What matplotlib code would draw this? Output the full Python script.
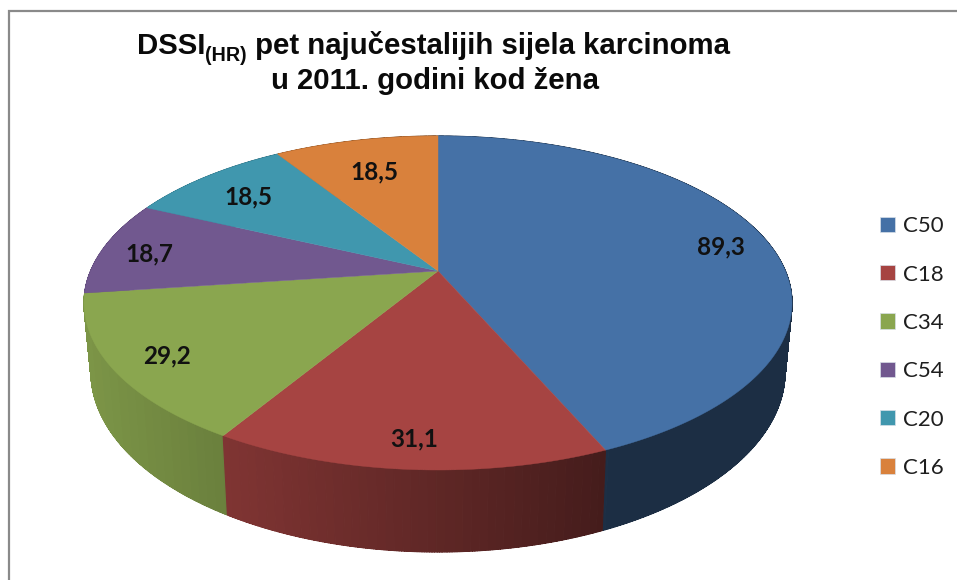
import numpy as np
import matplotlib
matplotlib.use("Agg")
import matplotlib.pyplot as plt
from matplotlib.patches import Patch, PathPatch, Polygon
from matplotlib.path import Path

categories = ["C50", "C18", "C34", "C54", "C20", "C16"]
values = [89.3, 31.1, 29.2, 18.7, 18.5, 18.5]
value_labels = ["89,3", "31,1", "29,2", "18,7", "18,5", "18,5"]
colors = ["#4571A6", "#A64442", "#8AA64F", "#71588F", "#4097AE", "#D9813C"]
label_radius = [0.86, 0.86, 0.85, 0.86, 0.80, 0.75]

# projection of the pie disc (pixel space)
CX, CY, RX, RY = 438.0, 303.0, 354.0, 167.0
BX, BY, BRX, BRY = 438.0, 372.0, 347.0, 180.0
A = 32.0 / 167.0


def disc(frac, r=1.0):
    """fraction clockwise from 12 o'clock -> normalised projected disc coords"""
    th = 2 * np.pi * np.asarray(frac)
    c, s = r * np.sin(th), r * np.cos(th)
    d = 1 + A * s
    return c * np.sqrt(1 - A**2) / d, (s + A) / d


def top(frac, r=1.0):
    X, Y = disc(frac, r)
    return CX + RX * X, CY - RY * Y


def bottom(frac):
    X, Y = disc(frac)
    return BX + BRX * X, BY - BRY * Y


def shade(x):
    k = float(np.clip(0.90 - (x - 84.0) * 0.00093, 0.405, 0.92))
    return round(k / 0.008) * 0.008


def scale(col, k):
    return tuple(k * v for v in matplotlib.colors.to_rgb(col))


def wall_path(ff):
    """Compound path of quads, so the silhouette between the two rims stays filled."""
    xa, ya = top(ff)
    xb, yb = bottom(ff)
    verts, codes = [], []
    for j in range(len(ff) - 1):
        verts += [(xa[j], ya[j]), (xa[j + 1], ya[j + 1]), (xb[j + 1], yb[j + 1]), (xb[j], yb[j]), (xa[j], ya[j])]
        codes += [Path.MOVETO, Path.LINETO, Path.LINETO, Path.LINETO, Path.CLOSEPOLY]
    return Path(verts, codes)


fig = plt.figure(figsize=(9.57, 5.8), dpi=100)
ax = fig.add_axes([0, 0, 1, 1])
ax.set_xlim(0, 957)
ax.set_ylim(580, 0)
ax.axis("off")

# chart frame (open on the right and at the bottom, as in the crop)
ax.plot([8.5, 8.5, 957], [580, 10.5, 10.5], color="#8A8A8A", lw=1.6,
        solid_capstyle="butt", solid_joinstyle="miter", zorder=1)

edges = np.concatenate([[0], np.cumsum(values)]) / np.sum(values)

# side wall: bands of equal shade, far bands first
bands = []
for i, col in enumerate(colors):
    f = np.linspace(edges[i], edges[i + 1], max(40, int((edges[i + 1] - edges[i]) * 1600)) + 1)
    xt, yt = top(f)
    mid = (xt[:-1] + xt[1:]) / 2
    ks = [shade(m) for m in mid]
    start = 0
    for j in range(1, len(ks) + 1):
        if j == len(ks) or ks[j] != ks[start]:
            ff = f[start:j + 1]
            bands.append((top(ff)[1].mean(), wall_path(ff), scale(col, ks[start])))
            start = j
for _, path, c in sorted(bands, key=lambda t: t[0]):
    ax.add_patch(PathPatch(path, fc=c, ec=c, lw=0.8, zorder=2))

# top face
apex = top(0.0, 0.0)
for i, col in enumerate(colors):
    f = np.linspace(edges[i], edges[i + 1], 240)
    x, y = top(f)
    pts = np.vstack([[apex], np.column_stack([x, y])])
    ax.add_patch(Polygon(pts, closed=True, fc=col, ec=col, lw=0.3, zorder=3))

# data labels
for i, lab in enumerate(value_labels):
    x, y = top((edges[i] + edges[i + 1]) / 2, label_radius[i])
    ax.annotate(lab, (x, y), xytext=(0, -3), textcoords="offset pixels", ha="center", va="center",
                family="Lato", weight="bold", fontsize=17.5, color="#111111", zorder=4)

# title, built in runs so the subscript sits on its own baseline
fig.canvas.draw()
rend = fig.canvas.get_renderer()
TITLE_PT = 21.2
runs = [("DSSI", TITLE_PT, 0), ("(HR)", 14.2, 7), (" pet najučestalijih sijela karcinoma", TITLE_PT, 0)]
arts = [ax.text(0, 54, t, fontsize=fs, family="Liberation Sans", weight="bold", color="#0A0A0A",
                va="baseline", ha="left", zorder=5) for t, fs, dy in runs]
# the leading space is measured by a stand-in so it is not dropped
widths = []
for a, (t, fs, dy) in zip(arts, runs):
    probe = ax.text(0, 0, t.replace(" ", "n", 1) if t.startswith(" ") else t, fontsize=fs,
                    family="Liberation Sans", weight="bold")
    widths.append(probe.get_window_extent(rend).width)
    probe.remove()
x0 = 438.0 - sum(widths) / 2
for a, w, (t, fs, dy) in zip(arts, widths, runs):
    a.set_x(x0)
    a.set_y(54 + dy)
    x0 += w
ax.text(435, 89, "u 2011. godini kod žena", fontsize=TITLE_PT, family="Liberation Sans", weight="bold",
        color="#0A0A0A", ha="center", va="baseline", zorder=5)

# legend
handles = [Patch(fc=c, ec="#D8E0E8", lw=0.5, label=n) for c, n in zip(colors, categories)]
leg = ax.legend(handles=handles, loc="center left", bbox_to_anchor=(880 / 957, 1 - 347 / 580),
                frameon=False, borderpad=0, borderaxespad=0, handlelength=0.68, handleheight=0.68,
                handletextpad=0.36, labelspacing=1.275, prop={"family": "Lato", "size": 16})
for t in leg.get_texts():
    t.set_color("#1E1E1E")

fig.savefig("out.png", dpi=100, facecolor="white")
